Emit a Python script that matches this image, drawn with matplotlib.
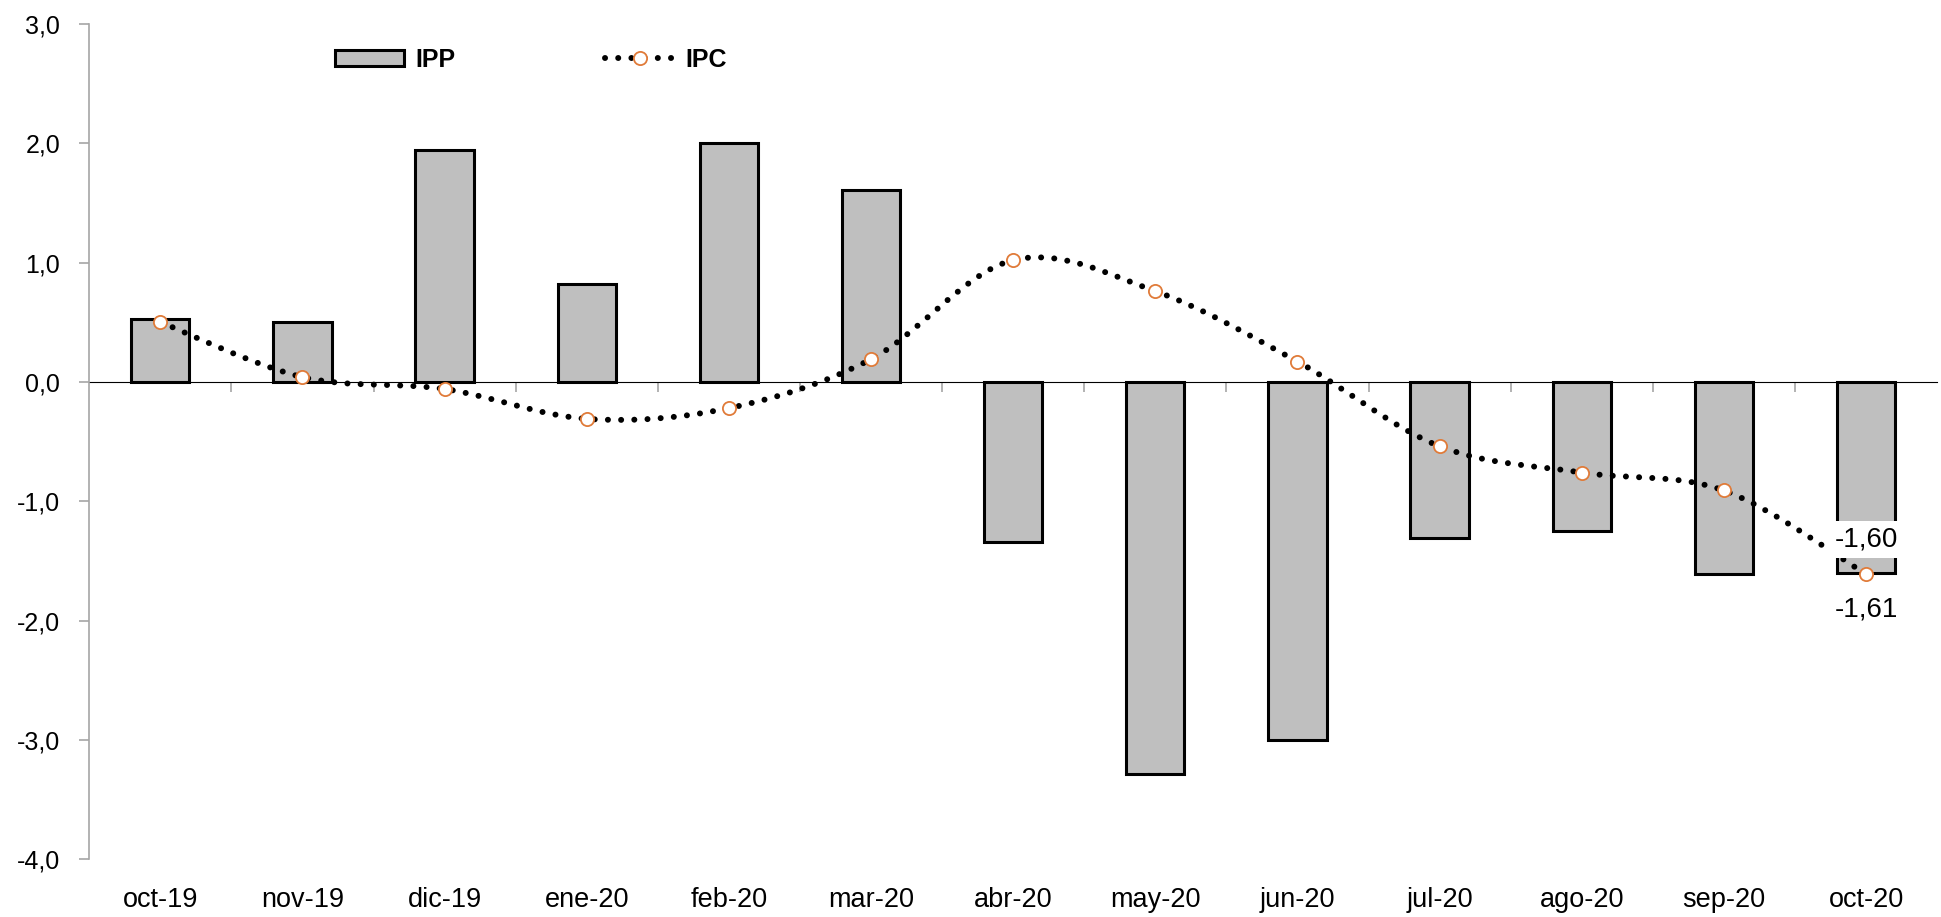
import numpy as np
import matplotlib
matplotlib.use('Agg')
import matplotlib.pyplot as plt
from matplotlib.path import Path
from matplotlib.patches import PathPatch, Patch
from matplotlib.lines import Line2D

# datos
meses = ['oct-19', 'nov-19', 'dic-19', 'ene-20', 'feb-20', 'mar-20', 'abr-20',
         'may-20', 'jun-20', 'jul-20', 'ago-20', 'sep-20', 'oct-20']
ipp = [0.53, 0.50, 1.94, 0.82, 2.00, 1.61, -1.34, -3.29, -3.00, -1.31, -1.25, -1.61, -1.60]
ipc = [0.50, 0.04, -0.06, -0.31, -0.22, 0.19, 1.02, 0.76, 0.17, -0.54, -0.76, -0.91, -1.61]

plt.rcParams['font.family'] = ['Liberation Sans', 'DejaVu Sans']

gris = '#a6a6a6'
naranja = '#e07b39'

fig = plt.figure(figsize=(19.41, 9.17), dpi=100)
ax = fig.add_axes([0.046, 0.063, 0.952, 0.911])

x = np.arange(len(meses))
ax.bar(x, ipp, width=0.41, color='#bfbfbf', edgecolor='black', linewidth=2.2, zorder=2)

# linea suavizada (bezier tipo excel) a traves de los puntos del IPC
pts = np.column_stack([x, ipc]).astype(float)
verts = [tuple(pts[0])]
codes = [Path.MOVETO]
for i in range(len(pts) - 1):
    p0 = pts[i - 1] if i > 0 else pts[i]
    p1 = pts[i]
    p2 = pts[i + 1]
    p3 = pts[i + 2] if i + 2 < len(pts) else pts[i + 1]
    c1 = p1 + (p2 - p0) / 6
    c2 = p2 - (p3 - p1) / 6
    verts += [tuple(c1), tuple(c2), tuple(p2)]
    codes += [Path.CURVE4] * 3
curva = PathPatch(Path(verts, codes), facecolor='none', edgecolor='black',
                  linewidth=4.3, linestyle=(0, (0.01, 2.2)), capstyle='round', zorder=3)
ax.add_patch(curva)
ax.plot(x, ipc, linestyle='none', marker='o', markersize=9.5, markerfacecolor='white',
        markeredgecolor=naranja, markeredgewidth=1.3, zorder=4)

# etiquetas del ultimo mes
ax.text(x[-1], -1.32, '-1,60', ha='center', va='center', fontsize=20,
        bbox=dict(facecolor='white', edgecolor='none', pad=4), zorder=5)
ax.text(x[-1], -1.91, '-1,61', ha='center', va='center', fontsize=20, zorder=5)

ax.set_xlim(-0.5, len(meses) - 0.5)
ax.set_ylim(-4, 3)
ax.set_yticks(np.arange(-4, 3.1, 1))
ax.set_yticklabels([f'{v:.1f}'.replace('.', ',') for v in np.arange(-4, 3.1, 1)])
ax.set_xticks(x)
ax.set_xticklabels(meses)
ax.tick_params(axis='x', length=0, pad=20, labelsize=19.5)
ax.tick_params(axis='y', length=7, width=1.2, color=gris, pad=14, labelsize=18)

for s in ['top', 'right', 'bottom']:
    ax.spines[s].set_visible(False)
ax.spines['left'].set_color(gris)
ax.spines['left'].set_linewidth(1.2)

# eje en cero con marcas entre categorias
sec = ax.secondary_xaxis(4 / 7)
sec.set_xticks(np.arange(0.5, len(meses) - 0.5, 1))
sec.tick_params(axis='x', direction='out', length=7, width=1.2, color=gris, labelbottom=False, labeltop=False)
sec.spines['bottom'].set_color(gris)
sec.spines['bottom'].set_linewidth(1.2)
sec.xaxis.set_ticks_position('bottom')
sec.set_xticklabels([])

h1 = Patch(facecolor='#bfbfbf', edgecolor='black', linewidth=2.2)
h2 = Line2D([0], [0], color='black', linewidth=4.3, linestyle=(0, (0.01, 2.2)),
            dash_capstyle='round', marker='o', markersize=9.5, markerfacecolor='white',
            markeredgecolor=naranja, markeredgewidth=1.3)
ax.legend([h1, h2], ['IPP', 'IPC'], loc='center left', bbox_to_anchor=(0.121, 0.957), ncol=2,
          frameon=False, handlelength=2.75, handleheight=0.6, columnspacing=6.0, handletextpad=0.45,
          prop=dict(weight='bold', size=18))

fig.savefig('out.png', dpi=100)
